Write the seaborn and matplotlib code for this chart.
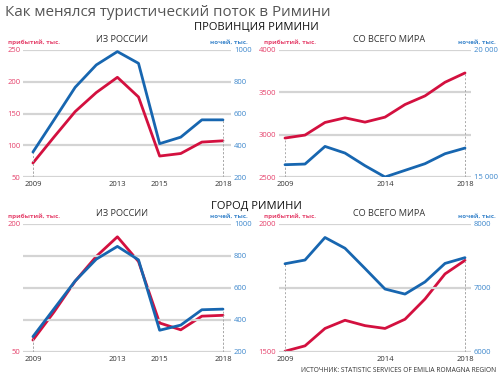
#Tourist flow to Rimini: arrivals vs nights, two panels per region
import pandas as pd
import seaborn as sns
from matplotlib import pyplot as plt

years = [2009, 2010, 2011, 2012, 2013, 2014, 2015, 2016, 2017, 2018]

# province of Rimini
prov_ru_arr = [72, 113, 153, 183, 207, 176, 83, 87, 105, 107]
prov_ru_night = [357, 560, 765, 906, 990, 916, 410, 451, 560, 560]
prov_world_arr = [2960, 2995, 3144, 3199, 3148, 3207, 3356, 3458, 3619, 3729]
prov_world_night = [15484, 15510, 16204, 15942, 15445, 15000, 15262, 15524, 15916, 16139]

# city of Rimini
city_ru_arr = [64, 97, 133, 162, 185, 156, 84, 76, 92, 93]
city_ru_night = [296, 470, 644, 780, 860, 776, 336, 368, 464, 468]
city_world_arr = [1503, 1524, 1592, 1624, 1603, 1592, 1628, 1707, 1805, 1858]
city_world_night = [7379, 7437, 7789, 7621, 7305, 6984, 6905, 7095, 7384, 7474]

red = '#d3103f'
blue = '#1766b0'
red_txt = '#e5416b'
blue_txt = '#3d87cc'
grid = '#d4d4d4'

sns.set_style('white')
plt.rcParams['font.family'] = ['Open Sans', 'DejaVu Sans']

W, H = 504, 380
fig = plt.figure(figsize=(W / 100, H / 100), dpi=100)


def px(x, y):
    return x / W, 1 - y / H


def panel(box, xlim, arr, night, ylim_l, ylim_r, lticks, rticks, rlabels, grid_l, grid_r, xticks,
          title, title_x, night_dx):
    x0, y0, x1, y1 = box
    ax = fig.add_axes([x0 / W, 1 - y1 / H, (x1 - x0) / W, (y1 - y0) / H])
    ax2 = ax.twinx()
    for g in grid_l:
        ax.axhline(g, color=grid, lw=1.6, zorder=0)
    for g in grid_r:
        ax2.axhline(g, color=grid, lw=1.6, zorder=0)
    df = pd.DataFrame({'year': years, 'arr': arr, 'night': night})
    sns.lineplot(data=df, x='year', y='arr', ax=ax, color=red, lw=2)
    sns.lineplot(data=df, x='year', y='night', ax=ax2, color=blue, lw=2)
    for i in [0, -1]:
        ax.vlines(years[i], ylim_l[0], arr[i], color='#aaaaaa', lw=0.7, ls=(0, (2, 2)), zorder=0)
        ax2.vlines(years[i], ylim_r[0], night[i], color='#aaaaaa', lw=0.7, ls=(0, (2, 2)), zorder=0)
    ax.set_xlim(xlim)
    ax.set_ylim(ylim_l)
    ax2.set_ylim(ylim_r)
    ax.set_xticks(xticks)
    ax.set_xticklabels([str(x) for x in xticks], fontsize=5.5, color='#333333')
    ax.set_yticks(lticks)
    ax.set_yticklabels([str(t) for t in lticks], fontsize=5.5, color=red_txt)
    ax2.set_yticks(rticks)
    ax2.set_yticklabels(rlabels, fontsize=5.5, color=blue_txt)
    ax.tick_params(axis='x', length=0, pad=3)
    ax.tick_params(axis='y', length=0, pad=2)
    ax2.tick_params(length=0, pad=2)
    ax.set_xlabel('')
    ax.set_ylabel('')
    ax2.set_ylabel('')
    for a in (ax, ax2):
        for s in a.spines.values():
            s.set_visible(False)
    fig.text(*px(title_x, y0 - 11), title, ha='center', va='center', fontsize=6.6, color='#333333')
    fig.text(*px(x0 - 15, y0 - 8), 'прибытий, тыс.', ha='left', va='center',
             fontsize=4.5, color=red_txt, fontweight='bold')
    fig.text(*px(x1 + night_dx, y0 - 8), 'ночей, тыс.', ha='right', va='center',
             fontsize=4.5, color=blue_txt, fontweight='bold')
    return ax


xl1 = (2008.53, 2018.38)
xl2 = (2008.7, 2018.3)

panel((23, 50, 231, 177), xl1, prov_ru_arr, prov_ru_night, (50, 250), (200, 1000),
      [50, 100, 150, 200, 250], [200, 400, 600, 800, 1000], ['200', '400', '600', '800', '1000'],
      [50, 100, 150, 200, 250], [], [2009, 2013, 2015, 2018], 'ИЗ РОССИИ', 122, 17)
panel((279, 50, 471, 177), xl2, prov_world_arr, prov_world_night, (2500, 4000), (15000, 20000),
      [2500, 3000, 3500, 4000], [15000, 20000], ['15 000', '20 000'],
      [2500, 3000, 3500, 4000], [], [2009, 2014, 2018], 'СО ВСЕГО МИРА', 389, 25)
panel((23, 224, 231, 352), xl1, city_ru_arr, city_ru_night, (50, 200), (200, 1000),
      [50, 200], [200, 400, 600, 800, 1000], ['200', '400', '600', '800', '1000'],
      [], [200, 400, 600, 800, 1000], [2009, 2013, 2015, 2018], 'ИЗ РОССИИ', 122, 17)
panel((279, 224, 471, 352), xl2, city_world_arr, city_world_night, (1500, 2000), (6000, 8000),
      [1500, 2000], [6000, 7000, 8000], ['6000', '7000', '8000'],
      [], [6000, 7000, 8000], [2009, 2014, 2018], 'СО ВСЕГО МИРА', 389, 25)

fig.text(*px(5, 13), 'Как менялся туристический поток в Римини', fontsize=10.9, color='#555555',
         ha='left', va='center')
fig.text(*px(256, 27), 'ПРОВИНЦИЯ РИМИНИ', fontsize=8, color='#111111', ha='center', va='center')
fig.text(*px(256, 206), 'ГОРОД РИМИНИ', fontsize=8, color='#111111', ha='center', va='center')
fig.text(*px(496, 371), 'ИСТОЧНИК: STATISTIC SERVICES OF EMILIA ROMAGNA REGION', fontsize=4.8,
         color='#333333', ha='right', va='center')

fig.savefig('out.png', dpi=100)
